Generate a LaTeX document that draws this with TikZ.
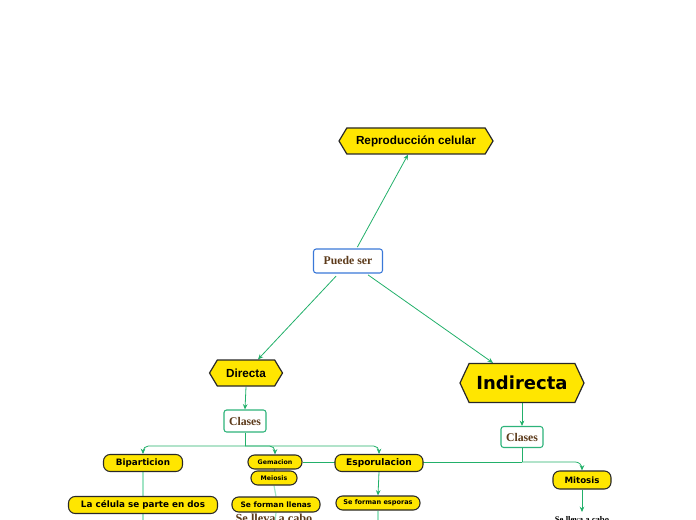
\documentclass[tikz,border=0pt]{standalone}
\usepackage{fontspec}
\setmainfont{Liberation Serif}
\newfontfamily\dejab{DejaVu Sans}[BoldFont={DejaVu Sans Bold}]
\newfontfamily\arialf{Liberation Sans}
\usetikzlibrary{shapes.symbols,arrows.meta,backgrounds}
\definecolor{yel}{RGB}{255,230,0}
\definecolor{bord}{RGB}{40,40,40}
\definecolor{conn}{RGB}{34,176,106}
\definecolor{lconn}{RGB}{160,228,196}
\definecolor{brn}{RGB}{92,58,26}
\definecolor{blu}{RGB}{58,120,216}
\definecolor{grb}{RGB}{45,179,122}
\tikzset{
  hexa/.style={signal, signal to=west and east, signal pointer angle=118, fill=yel, draw=bord, line width=0.9pt, inner sep=0pt, align=center},
  pill/.style={rectangle, rounded corners=5pt, fill=yel, draw=bord, line width=0.8pt, inner sep=0pt, font=\dejab\bfseries},
  wbox/.style={rectangle, rounded corners=2pt, fill=white, line width=0.8pt, inner sep=0pt, font=\bfseries\color{brn}},
  cn/.style={draw=conn, line width=0.6pt},
  cna/.style={cn, -{Stealth[length=4pt,width=3.5pt]}},
  lcn/.style={draw=lconn, line width=0.9pt},
}
\begin{document}
\begin{tikzpicture}[x=0.75pt,y=-0.75pt]
\useasboundingbox (0,0) rectangle (696,520);
% nodes
\node[hexa, minimum width=115.5pt, minimum height=19.5pt, font=\arialf\bfseries\fontsize{8.8pt}{10pt}\selectfont] (rep) at (416,141) {Reproducción celular};
\node[wbox, draw=blu, minimum width=51.75pt, minimum height=18pt, font=\bfseries\fontsize{8.8pt}{10pt}\selectfont\color{brn}] (pue) at (348,261) {Puede ser};
\node[hexa, minimum width=54.75pt, minimum height=19.5pt, font=\arialf\bfseries\fontsize{8.8pt}{10pt}\selectfont] (dir) at (246,373) {Directa};
\node[hexa, signal pointer angle=130, minimum width=93pt, minimum height=29.25pt, font=\dejab\bfseries\fontsize{13.5pt}{15pt}\selectfont] (ind) at (522,383) {Indirecta};
\node[wbox, draw=grb, minimum width=31.5pt, minimum height=16.5pt, font=\bfseries\fontsize{8.8pt}{10pt}\selectfont\color{brn}] (cll) at (245,421) {Clases};
\node[wbox, draw=grb, minimum width=31.5pt, minimum height=15.75pt, font=\bfseries\fontsize{8.8pt}{10pt}\selectfont\color{brn}] (clr) at (522,437) {Clases};
\node[pill, minimum width=59.25pt, minimum height=12.75pt, font=\dejab\bfseries\fontsize{6.6pt}{8pt}\selectfont] (bip) at (143,463) {Biparticion};
\node[pill, minimum width=40.5pt, minimum height=10.5pt, font=\dejab\bfseries\fontsize{4.7pt}{6pt}\selectfont] (gem) at (275,462) {Gemacion};
\node[pill, minimum width=34.5pt, minimum height=10.5pt, font=\dejab\bfseries\fontsize{4.7pt}{6pt}\selectfont] (mei) at (274,478) {Meiosis};
\node[pill, minimum width=66pt, minimum height=12.75pt, font=\dejab\bfseries\fontsize{6.8pt}{8pt}\selectfont] (esp) at (379,463) {Esporulacion};
\node[pill, minimum width=43.5pt, minimum height=13.5pt, font=\dejab\bfseries\fontsize{6.5pt}{8pt}\selectfont] (mit) at (582,480) {Mitosis};
\node[pill, minimum width=111.75pt, minimum height=12.75pt, font=\dejab\bfseries\fontsize{6.6pt}{8pt}\selectfont] (lac) at (143,505) {La célula se parte en dos};
\node[pill, minimum width=66pt, minimum height=11.25pt, font=\dejab\bfseries\fontsize{5.6pt}{7pt}\selectfont] (sfl) at (276,504.5) {Se forman llenas};
\node[pill, minimum width=63pt, minimum height=10.5pt, font=\dejab\bfseries\fontsize{4.9pt}{6pt}\selectfont] (sfe) at (378,503) {Se forman esporas};
\node[inner sep=0pt, font=\bfseries\fontsize{9.2pt}{10pt}\selectfont\color{brn}] (sl1) at (274,518.5) {Se lleva a cabo};
\node[inner sep=0pt, font=\bfseries\fontsize{6.5pt}{8pt}\selectfont] (sl2) at (582,519.5) {Se lleva a cabo};
% junctions and free ends
\coordinate (jl) at (245,446);
\coordinate (jr) at (522,462);
\coordinate (e1) at (143,522);
\coordinate (e2) at (275,522);
\coordinate (e3) at (378,522);
\coordinate (mt) at (582,512);
\coordinate (p1) at ([xshift=7pt,yshift=1pt]pue.north);
\coordinate (p2) at ([xshift=-9pt,yshift=-2pt]pue.south);
\coordinate (p3) at ([xshift=15pt,yshift=-1pt]pue.south);
\coordinate (r1) at ([xshift=-6pt]rep.south);
\coordinate (d1) at ([xshift=9pt]dir.north);
\coordinate (i1) at ([xshift=-21.75pt]ind.north);
\begin{scope}[on background layer]
\draw[cna] (p1) -- (r1);
\draw[cna] (p2) -- (d1);
\draw[cna] (p3) -- (i1);
\draw[cna] (dir.south) -- (cll.north);
\draw[cna] (ind.south) -- (clr.north);
\draw[cn] (cll.south) -- (jl);
\draw[cna, rounded corners=4pt] (jl) -| (bip.north);
\draw[cna, rounded corners=4pt] (jl) -| (gem.north);
\draw[cna, rounded corners=4pt] (jl) -| (esp.north);
\draw[cn] (clr.south) -- (jr);
\draw[cn] (jr) -- (gem.east);
\draw[cna, rounded corners=5pt] (jr) -| (mit.north);
\draw[lcn] (bip.south) -- (lac.north);
\draw[lcn] (lac.south) -- (e1);
\draw[cn] (gem.south) -- (mei.north);
\draw[lcn] (mei.south) -- (sfl.north);
\draw[lcn] (sfl.south) -- (e2);
\draw[cna] (esp.south) -- (sfe.north);
\draw[lcn] (sfe.south) -- (e3);
\draw[cna] (mit.south) -- (mt);
\end{scope}
\end{tikzpicture}
\end{document}
